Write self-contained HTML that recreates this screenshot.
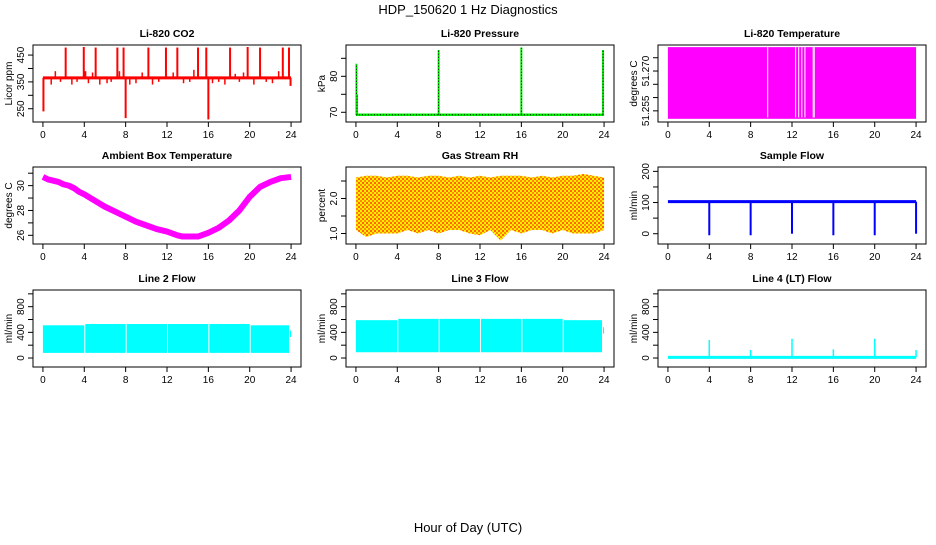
<!DOCTYPE html>
<html><head><meta charset="utf-8"><style>
body{margin:0;background:#fff;width:936px;height:540px;overflow:hidden}
svg{font-family:"Liberation Sans",Arial,sans-serif}
</style></head><body>
<svg id="c" width="936" height="540">
<text x="468" y="14" text-anchor="middle" font-size="13">HDP_150620  1 Hz Diagnostics</text>
<text x="468" y="532" text-anchor="middle" font-size="13">Hour of Day (UTC)</text>
<defs>
<pattern id="rh" width="4" height="4" patternUnits="userSpaceOnUse"><rect width="4" height="4" fill="#ffee00"/><rect x="0" y="0" width="2" height="2" fill="#ff8800"/><rect x="2" y="2" width="2" height="2" fill="#ff6600"/></pattern>
</defs>
</svg>
<script>
// shared x ticks
const xTicks=[0,4,8,12,16,20,24];
// CO2
const co2Base=365;
const co2SpikeHours=[0.05,2.2,3.95,4.1,5.1,7.2,7.8,8.0,10.2,11.9,13.0,15.0,15.8,16.0,18.1,19.8,21.0,23.2,23.8,23.95];
const co2SpikeValues=[240,478,480,390,478,478,478,215,478,478,478,478,478,210,478,480,478,478,478,335];
const co2SmallHours=[0.8,1.2,1.7,2.8,3.3,4.4,4.8,5.5,6.2,6.6,7.4,8.4,9.0,9.6,10.6,11.2,12.6,13.6,14.2,14.6,16.4,17.0,17.6,18.6,19.0,19.4,20.4,21.6,22.2,22.8];
const co2SmallValues=[340,390,350,340,350,345,385,340,345,350,390,340,345,385,340,350,385,345,350,395,345,350,340,380,350,385,340,350,345,390];
// Pressure
const pSpikeHours=[0.05,0.1,8.0,16.0,23.9];
const pSpikeValues=[83.5,75,87.3,88,87.3];
const pBase=69.3;
// Li-820 temperature gaps
const tGaps=[9.65,12.35,12.65,12.95,13.25,14.05,14.15];
const tMin=51.252,tMax=51.279;
// Ambient
const ambHours=[0,0.5,1,1.5,2,2.5,3,3.5,4,5,6,7,8,9,10,11,12,13,13.5,14,15,16,17,18,19,20,21,22,23,24];
const ambValues=[30.7,30.5,30.4,30.3,30.1,30.0,29.8,29.5,29.3,28.8,28.3,27.9,27.5,27.1,26.8,26.5,26.3,26.0,25.9,25.9,25.9,26.2,26.6,27.2,28.0,29.1,29.9,30.3,30.6,30.7];
// RH
const rhHours=[0,1,2,3,4,5,6,7,8,9,10,11,12,13,14,15,16,17,18,19,20,21,22,23,24];
const rhTop=[2.6,2.65,2.65,2.6,2.65,2.65,2.6,2.65,2.65,2.6,2.65,2.6,2.65,2.6,2.65,2.65,2.65,2.6,2.65,2.6,2.65,2.65,2.7,2.65,2.6];
const rhBottom=[1.1,0.9,1.0,1.0,1.0,1.1,1.0,1.1,1.0,1.1,1.1,1.0,0.95,1.1,0.8,1.1,1.0,1.1,1.1,1.0,1.1,1.0,1.0,1.0,1.1];
// Sample flow
const sfBase=103;
const sfDropHours=[4,8,12,16,20,24];
const sfDropValues=[-5,-5,0,-5,-5,0];
// Line 2 / 3 / 4 (segments between gaps)
const segStart=[0,4,8,12,16,20,23.8];
const segEnd=[4,8,12,16,20,23.8,24];
const l2Top=[510,530,530,530,530,510,430];
const l2Bottom=[80,80,80,80,80,80,330];
const l3Top=[590,610,610,610,610,590,480];
const l3Bottom=[90,90,90,90,90,90,380];
const l4Base=10;
const l4SpikeHours=[4,8,12,16,20,24];
const l4SpikeValues=[280,125,300,135,300,125];

const svg=document.getElementById('c');
const NS='http://www.w3.org/2000/svg';
function mk(tag,attrs,parent,name){const e=document.createElementNS(NS,tag);for(const k in attrs)e.setAttribute(k,attrs[k]);


(parent||svg).appendChild(e);return e;}
const colX=[33,346,658],rowY=[45,167,290],W=268,H=77;
function panel(ci,ri,title,ylab,ymin,ymax,yticks,ylabels,name){
  const g=mk('g',{},svg,name);
  const x0=colX[ci],y0=rowY[ri];
  const xs=h=>x0+(h+0.96)/25.92*W;
  const ys=v=>y0+H-(v-ymin)/(ymax-ymin)*H;
  mk('text',{x:x0+W/2,y:y0-8,'text-anchor':'middle','font-size':10.5,'font-weight':'bold'},g,'panel-title').textContent=title;
  xTicks.forEach(t=>{mk('line',{x1:xs(t),x2:xs(t),y1:y0+H,y2:y0+H+5,stroke:'#000'},g,'x-tick');
    mk('text',{x:xs(t),y:y0+H+16,'text-anchor':'middle','font-size':10},g,'x-tick-label').textContent=t;});
  yticks.forEach(t=>{mk('line',{x1:x0,x2:x0-5,y1:ys(t),y2:ys(t),stroke:'#000'},g,'y-tick');});
  ylabels.forEach(t=>{const tx=mk('text',{x:0,y:0,'text-anchor':'middle','font-size':10,transform:`translate(${x0-9},${ys(t)}) rotate(-90)`},g,'y-tick-label');tx.textContent=t;});
  mk('text',{x:0,y:0,'text-anchor':'middle','font-size':10,transform:`translate(${x0-21},${y0+H/2}) rotate(-90)`},g,'y-axis-title').textContent=ylab;
  const clip=mk('g',{},g,'plot-area');
  const box=()=>mk('rect',{x:x0,y:y0,width:W,height:H,fill:'none',stroke:'#000'},g,'plot-box');
  return {g:clip,xs,ys,box};
}
function vline(p,h,a,b,col,w,name){mk('line',{x1:p.xs(h),x2:p.xs(h),y1:p.ys(a),y2:p.ys(b),stroke:col,'stroke-width':w||1},p.g,name);}
function hline(p,a,b,v,col,w,name){mk('line',{x1:p.xs(a),x2:p.xs(b),y1:p.ys(v),y2:p.ys(v),stroke:col,'stroke-width':w||1},p.g,name);}
function band(p,hs,top,bot,fill,name){let d='';hs.forEach((h,i)=>d+=(i?'L':'M')+p.xs(h)+','+p.ys(top[i]));for(let i=hs.length-1;i>=0;i--)d+='L'+p.xs(hs[i])+','+p.ys(bot[i]);mk('path',{d:d+'Z',fill:fill},p.g,name);}
function segs(p,top,bot,name){segStart.forEach((s,i)=>{const x=p.xs(s)+(i?1:0);mk('rect',{x:x,y:p.ys(top[i]),width:p.xs(segEnd[i])-x,height:p.ys(bot[i])-p.ys(top[i]),fill:'#00ffff'},p.g,name);});}

// CO2
let p=panel(0,0,'Li-820 CO2','Licor ppm',200.5,487.5,[250,300,350,400,450],[250,350,450],'co2-panel');
hline(p,0,24,co2Base,'#ff0000',3,'co2-baseline');
co2SmallHours.forEach((h,i)=>vline(p,h,co2Base,co2SmallValues[i],'#ff0000',1.5,'co2-small-spike'));
co2SpikeHours.forEach((h,i)=>vline(p,h,co2Base,co2SpikeValues[i],'#ff0000',2,'co2-spike'));p.box();
// Pressure
p=panel(1,0,'Li-820 Pressure','kPa',67.3,88.7,[70,75,80,85],[70,80],'pressure-panel');
hline(p,0,24,pBase,'#00ee00',2.5,'pressure-baseline');hline(p,0,24,pBase,'#000',1,'pressure-dots');
p.g.lastChild.setAttribute('stroke-dasharray','1,2');
pSpikeHours.forEach((h,i)=>{vline(p,h,pBase,pSpikeValues[i],'#00ee00',2,'pressure-spike');vline(p,h,pBase,pSpikeValues[i],'#000',1,'pressure-spike-dots');p.g.lastChild.setAttribute('stroke-dasharray','1,2');});p.box();
// Li-820 temp
p=panel(2,0,'Li-820 Temperature','degrees C',51.2508,51.2798,[51.255,51.26,51.265,51.27,51.275],['51.255','51.270'],'li820-temp-panel');
mk('rect',{x:p.xs(0),y:p.ys(tMax),width:p.xs(24)-p.xs(0),height:p.ys(tMin)-p.ys(tMax),fill:'#ff00ff'},p.g,'temp-fill');
tGaps.forEach(h=>vline(p,h,tMin+0.0005,tMax,'#fff',1,'temp-gap'));p.box();
// Ambient
p=panel(0,1,'Ambient Box Temperature','degrees C',25.3,31.5,[26,27,28,29,30,31],[26,28,30],'ambient-panel');
{let d='';ambHours.forEach((h,i)=>d+=(i?'L':'M')+p.xs(h)+','+p.ys(ambValues[i]));mk('path',{d,fill:'none',stroke:'#ff00ff','stroke-width':6,'stroke-linejoin':'round'},p.g,'ambient-line');}p.box();
// RH
p=panel(1,1,'Gas Stream RH','percent',0.7,2.9,[1.0,1.5,2.0,2.5],['1.0','2.0'],'rh-panel');
band(p,rhHours,rhTop,rhBottom,'url(#rh)','rh-band');p.box();
// Sample flow
p=panel(2,1,'Sample Flow','ml/min',-33,214,[0,50,100,150,200],[0,100,200],'sample-flow-panel');
hline(p,0,24,sfBase,'#0000ff',3,'sample-flow-line');
sfDropHours.forEach((h,i)=>vline(p,h,sfBase,sfDropValues[i],'#0000ff',2,'sample-flow-drop'));p.box();
// Line 2
p=panel(0,2,'Line 2 Flow','ml/min',-140,1060,[0,200,400,600,800,1000],[0,400,800],'line2-panel');
segs(p,l2Top,l2Bottom,'line2-segment');p.box();
// Line 3
p=panel(1,2,'Line 3 Flow','ml/min',-140,1060,[0,200,400,600,800,1000],[0,400,800],'line3-panel');
segs(p,l3Top,l3Bottom,'line3-segment');p.box();
// Line 4
p=panel(2,2,'Line 4 (LT) Flow','ml/min',-140,1060,[0,200,400,600,800,1000],[0,400,800],'line4-panel');
hline(p,0,24,l4Base,'#00ffff',3,'line4-baseline');
l4SpikeHours.forEach((h,i)=>vline(p,h,l4Base,l4SpikeValues[i],'#00ffff',1.5,'line4-spike'));p.box();
</script>
</body></html>
